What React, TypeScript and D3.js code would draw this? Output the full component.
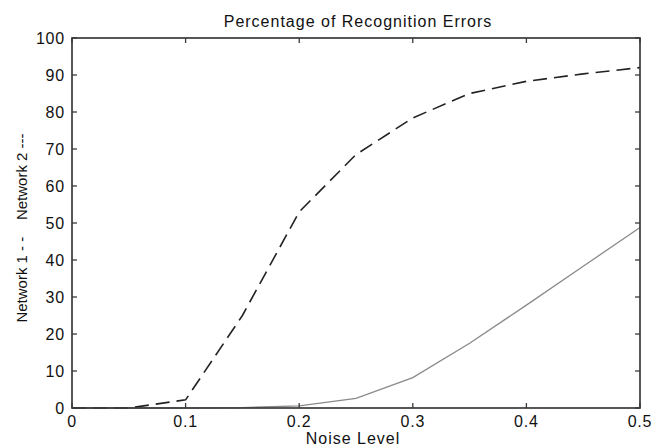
import React, { useRef, useEffect } from "react"
import * as d3 from "d3"

// noise levels and error percentages
const noiseLevels = [0, 0.05, 0.1, 0.15, 0.2, 0.25, 0.3, 0.35, 0.4, 0.45, 0.5]
const network1 = [0, 0, 0, 0.1, 0.6, 2.6, 8.2, 17.5, 27.8, 38.3, 48.8]
const network2 = [0, 0, 2.2, 25, 53, 68.5, 78.4, 85, 88.3, 90.3, 92]
const xTicks = [0, 0.1, 0.2, 0.3, 0.4, 0.5]
const yTicks = [0, 10, 20, 30, 40, 50, 60, 70, 80, 90, 100]

const W = 655
const H = 446
const margin = { top: 38, right: 15, bottom: 38, left: 72 }
const font = "'Liberation Sans', Arial, Helvetica, sans-serif"

function App() {
  const ref = useRef<SVGSVGElement>(null)

  useEffect(() => {
    const svg = d3.select(ref.current)
    svg.selectAll("*").remove()

    const x = d3
      .scaleLinear()
      .domain([0, 0.5])
      .range([margin.left, W - margin.right])
    const y = d3
      .scaleLinear()
      .domain([0, 100])
      .range([H - margin.bottom, margin.top])

    const line = d3
      .line<number>()
      .x((d, i) => x(noiseLevels[i]))
      .y(d => y(d))

    const axisColor = "#3a3a3a"
    const tickLen = 5

    // plot lines first, box goes over them
    svg
      .append("path")
      .attr("d", line(network1))
      .attr("fill", "none")
      .attr("stroke", "#8a8a8a")
      .attr("stroke-width", 1.3)

    svg
      .append("path")
      .attr("d", line(network2))
      .attr("fill", "none")
      .attr("stroke", "#222")
      .attr("stroke-width", 1.6)
      .attr("stroke-dasharray", "14,7")

    // box
    svg
      .append("rect")
      .attr("x", x(0))
      .attr("y", y(100))
      .attr("width", x(0.5) - x(0))
      .attr("height", y(0) - y(100))
      .attr("fill", "none")
      .attr("stroke", axisColor)
      .attr("stroke-width", 1.7)

    // inward ticks on all four sides
    const ticks = svg.append("g").attr("stroke", axisColor).attr("stroke-width", 1.3)
    xTicks.forEach(t => {
      ticks.append("line").attr("x1", x(t)).attr("x2", x(t)).attr("y1", y(0)).attr("y2", y(0) - tickLen)
      ticks.append("line").attr("x1", x(t)).attr("x2", x(t)).attr("y1", y(100)).attr("y2", y(100) + tickLen)
    })
    yTicks.forEach(t => {
      ticks.append("line").attr("x1", x(0)).attr("x2", x(0) + tickLen).attr("y1", y(t)).attr("y2", y(t))
      ticks.append("line").attr("x1", x(0.5)).attr("x2", x(0.5) - tickLen).attr("y1", y(t)).attr("y2", y(t))
    })

    const labels = svg
      .append("g")
      .style("font-family", font)
      .style("font-size", "16px")
      .style("letter-spacing", "0.8px")
      .attr("fill", "#111")

    labels
      .selectAll(".xl")
      .data(xTicks)
      .join("text")
      .attr("x", d => x(d))
      .attr("y", y(0) + 19)
      .attr("text-anchor", "middle")
      .text(d => d3.format("")(d))

    labels
      .selectAll(".yl")
      .data(yTicks)
      .join("text")
      .attr("x", x(0) - 7)
      .attr("y", d => y(d) + 6)
      .attr("text-anchor", "end")
      .text(d => d)

    svg
      .append("text")
      .attr("x", (x(0) + x(0.5)) / 2 + 2)
      .attr("y", 27)
      .attr("text-anchor", "middle")
      .style("font-family", font)
      .style("font-size", "16px")
      .style("letter-spacing", "1px")
      .attr("fill", "#111")
      .text("Percentage of Recognition Errors")

    svg
      .append("text")
      .attr("x", (x(0) + x(0.5)) / 2 - 3)
      .attr("y", H - 2)
      .attr("text-anchor", "middle")
      .style("font-family", font)
      .style("font-size", "16px")
      .style("letter-spacing", "1px")
      .attr("fill", "#111")
      .text("Noise Level")

    svg
      .append("text")
      .attr("transform", `translate(27, ${(y(0) + y(100)) / 2 + 5}) rotate(-90)`)
      .attr("text-anchor", "middle")
      .style("font-family", font)
      .style("font-size", "15px")
      .style("white-space", "pre")
      .attr("fill", "#111")
      .text("Network 1 - -    Network 2 ---")
  }, [])

  return (
    <div style={{ position: "absolute", left: 0, top: 0, background: "#fff" }}>
      <svg ref={ref} width={W} height={H} style={{ display: "block" }} />
    </div>
  )
}

export default App
